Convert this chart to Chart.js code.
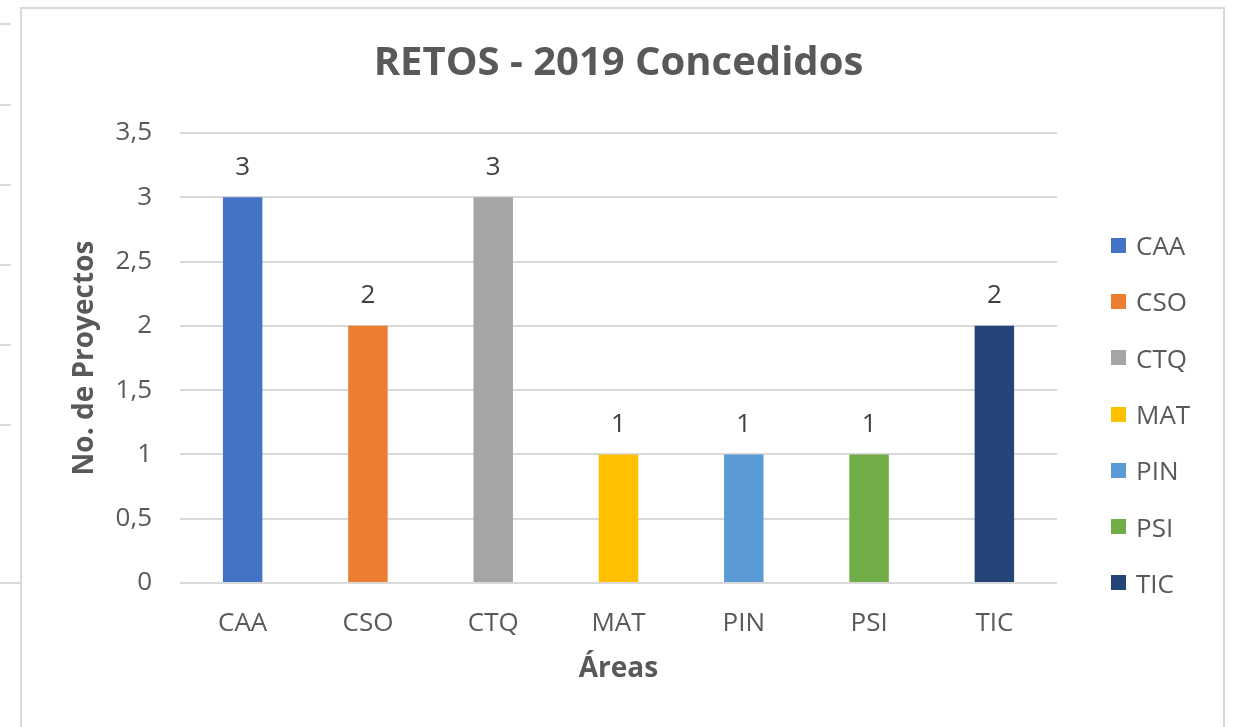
<!DOCTYPE html>
<html>
<head>
<meta charset="utf-8">
<script src="https://cdn.jsdelivr.net/npm/chart.js@4"></script>
<style>
  html, body { margin: 0; padding: 0; background: #fff; overflow: hidden; }
  #marco { position: absolute; left: 20px; top: 7px; width: 1205px; height: 760px; border: 2px solid #d9d9d9; box-sizing: border-box; }
  .raya { position: absolute; left: 0; width: 11px; height: 2px; background: #d9d9d9; }
  #wrap { position: absolute; left: 0; top: 0; width: 1233px; height: 727px; }
  #leyenda { position: absolute; left: 1111px; top: 217px; font-family: "Open Sans", sans-serif; font-size: 26px; color: #595959; }
  #leyenda .item { height: 56.3px; display: flex; align-items: center; }
  #leyenda .caja { width: 15px; height: 15px; margin-right: 10px; }
</style>
</head>
<body>
<div class="raya" style="top:23px"></div>
<div class="raya" style="top:104px"></div>
<div class="raya" style="top:184px"></div>
<div class="raya" style="top:264px"></div>
<div class="raya" style="top:344px"></div>
<div class="raya" style="top:424px"></div>
<div class="raya" style="top:582px; width:21px"></div>
<div id="marco"></div>
<div id="wrap"><canvas id="grafico"></canvas></div>
<div id="leyenda"></div>
<script>
// datos del grafico
const areas = ['CAA', 'CSO', 'CTQ', 'MAT', 'PIN', 'PSI', 'TIC'];
const proyectos = [3, 2, 3, 1, 1, 1, 2];
const colores = ['#4472C4', '#ED7D31', '#A5A5A5', '#FFC000', '#5B9BD5', '#70AD47', '#264478'];
const yMax = 3.5;
const yPaso = 0.5;

const FUENTE = '"Open Sans", sans-serif';

// etiquetas de valor encima de cada barra
const etiquetas = {
    id: 'etiquetas',
    afterDatasetsDraw(chart) {
        const ctx = chart.ctx;
        const meta = chart.getDatasetMeta(0);
        ctx.save();
        ctx.font = '26px ' + FUENTE;
        ctx.fillStyle = '#404040';
        ctx.textAlign = 'center';
        ctx.textBaseline = 'middle';
        meta.data.forEach((bar, i) => {
            ctx.fillText(String(proyectos[i]), bar.x, bar.y - 30);
        });
        ctx.restore();
    }
};

// leyenda a la derecha
let html = '';
areas.forEach((a, i) => {
    html += `<div class="item"><span class="caja" style="background:${colores[i]}"></span>${a}</div>`;
});
document.getElementById('leyenda').innerHTML = html;

new Chart(document.getElementById('grafico').getContext('2d'), {
    type: 'bar',
    data: {
        labels: areas,
        datasets: [{
            label: 'Concedidos',
            data: proyectos,
            backgroundColor: colores,
            barPercentage: 0.315,
            categoryPercentage: 1.0
        }]
    },
    options: {
        responsive: true,
        maintainAspectRatio: false,
        animation: false,
        layout: { padding: { left: 68, right: 176, top: 0, bottom: 44 } },
        plugins: {
            legend: { display: false },
            tooltip: { enabled: false },
            title: {
                display: true,
                fullSize: false,
                text: 'RETOS - 2019 Concedidos',
                color: '#595959',
                font: { family: FUENTE, size: 40, weight: 'bold' },
                padding: { top: 40, bottom: 45 }
            }
        },
        scales: {
            x: {
                afterFit(s) { s.height = 100; },
                grid: { display: false, drawTicks: false },
                border: { display: false },
                ticks: { color: '#595959', font: { family: FUENTE, size: 26 }, padding: 25 },
                title: {
                    display: true,
                    text: 'Áreas',
                    color: '#595959',
                    font: { family: FUENTE, size: 28, weight: 'bold', lineHeight: 1 },
                    padding: 0
                }
            },
            y: {
                min: 0,
                max: yMax,
                afterFit(s) { s.width = 112; },
                grid: { color: '#d9d9d9', lineWidth: 2, drawTicks: false },
                border: { display: false },
                ticks: {
                    stepSize: yPaso,
                    color: '#595959',
                    font: { family: FUENTE, size: 26 },
                    padding: 28,
                    callback: v => String(v).replace('.', ',')
                },
                title: {
                    display: true,
                    text: 'No. de Proyectos',
                    color: '#595959',
                    font: { family: FUENTE, size: 28, weight: 'bold' },
                    padding: 0
                }
            }
        }
    },
    plugins: [etiquetas]
});
</script>
</body>
</html>
